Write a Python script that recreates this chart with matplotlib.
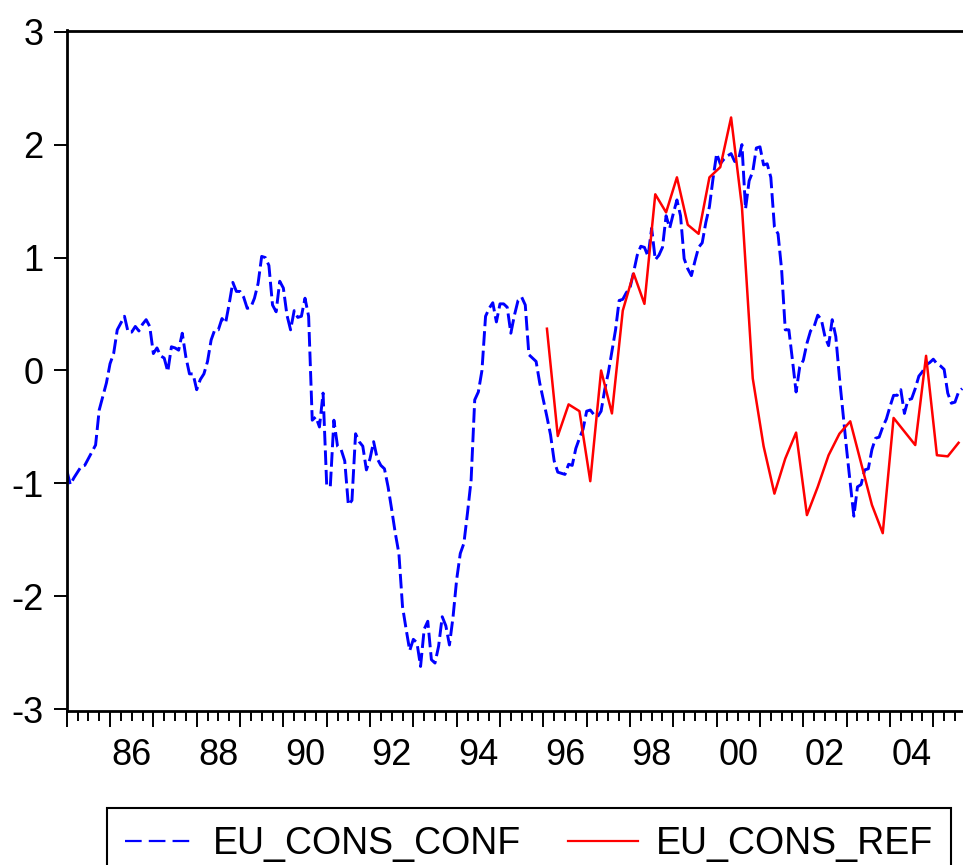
import numpy as np
import matplotlib
matplotlib.use("Agg")
import matplotlib.pyplot as plt
from matplotlib.ticker import FixedLocator
from matplotlib.lines import Line2D

plt.rcParams['font.family'] = ['Liberation Sans', 'DejaVu Sans']

# EU_CONS_CONF: monthly, Jan 1985 .. Sep 2005
conf_start = 1985.0
eu_cons_conf = [
    -0.88, -1.01, -0.95, -0.90, -0.85, -0.84, -0.78, -0.72, -0.66, -0.35, -0.23, -0.11,   # 1985
    0.06, 0.15, 0.36, 0.42, 0.48, 0.34, 0.34, 0.39, 0.35, 0.41, 0.45, 0.39,               # 1986
    0.15, 0.20, 0.13, 0.11, -0.01, 0.21, 0.20, 0.18, 0.33, 0.12, -0.03, -0.03,            # 1987
    -0.17, -0.08, -0.03, 0.08, 0.27, 0.36, 0.36, 0.46, 0.42, 0.59, 0.78, 0.70,            # 1988
    0.70, 0.65, 0.55, 0.56, 0.64, 0.77, 1.01, 1.00, 0.93, 0.58, 0.52, 0.79,               # 1989
    0.73, 0.49, 0.36, 0.53, 0.47, 0.48, 0.64, 0.48, -0.44, -0.41, -0.50, -0.20,           # 1990
    -1.01, -1.03, -0.44, -0.67, -0.70, -0.80, -1.19, -1.15, -0.56, -0.63, -0.67, -0.88,   # 1991
    -0.78, -0.63, -0.78, -0.84, -0.87, -1.03, -1.23, -1.44, -1.62, -2.09, -2.29, -2.48,   # 1992
    -2.38, -2.41, -2.62, -2.29, -2.22, -2.56, -2.59, -2.44, -2.18, -2.26, -2.43, -2.18,   # 1993
    -1.85, -1.62, -1.53, -1.26, -0.97, -0.26, -0.19, 0.00, 0.48, 0.55, 0.60, 0.43,        # 1994
    0.59, 0.59, 0.56, 0.33, 0.49, 0.62, 0.65, 0.58, 0.14, 0.11, 0.08, -0.11,              # 1995
    -0.26, -0.41, -0.57, -0.80, -0.90, -0.91, -0.92, -0.83, -0.84, -0.69, -0.60, -0.52,   # 1996
    -0.36, -0.35, -0.39, -0.41, -0.36, -0.17, -0.02, 0.17, 0.36, 0.62, 0.63, 0.69,        # 1997
    0.73, 0.87, 1.02, 1.10, 1.09, 1.01, 1.26, 0.98, 1.02, 1.09, 1.37, 1.26,               # 1998
    1.39, 1.51, 1.37, 0.99, 0.90, 0.84, 0.97, 1.09, 1.13, 1.31, 1.45, 1.70,               # 1999
    1.92, 1.83, 1.87, 1.90, 1.92, 1.85, 1.86, 2.00, 1.43, 1.68, 1.76, 1.97,               # 2000
    1.98, 1.82, 1.83, 1.71, 1.27, 1.21, 0.89, 0.36, 0.36, 0.09, -0.19, 0.03,              # 2001
    0.09, 0.24, 0.35, 0.39, 0.49, 0.45, 0.30, 0.22, 0.45, 0.30, -0.06, -0.38,             # 2002
    -0.70, -1.00, -1.29, -1.03, -1.01, -0.88, -0.87, -0.70, -0.60, -0.59, -0.50, -0.43,   # 2003
    -0.32, -0.22, -0.22, -0.17, -0.38, -0.26, -0.25, -0.16, -0.05, -0.01, 0.05, 0.07,     # 2004
    0.10, 0.06, 0.04, 0.01, -0.20, -0.29, -0.28, -0.19, -0.16,                            # 2005
]

# EU_CONS_REF: quarterly, plotted at mid-quarter, starting Feb 1996
ref_start = 1996 + 1 / 12
eu_cons_ref = [
    0.37, -0.58, -0.30, -0.36, -0.98, 0.00, -0.38, 0.53, 0.86, 0.59,
    1.56, 1.40, 1.71, 1.29, 1.21, 1.71, 1.80, 2.24, 1.45, -0.07,
    -0.67, -1.09, -0.78, -0.55, -1.28, -1.03, -0.75, -0.56, -0.45, -0.82,
    -1.19, -1.44, -0.42, -0.54, -0.66, 0.13, -0.75, -0.76, -0.64,
]

year_labels = ["86", "88", "90", "92", "94", "96", "98", "00", "02", "04"]
label_years = [1986, 1988, 1990, 1992, 1994, 1996, 1998, 2000, 2002, 2004]
y_ticks = [-3, -2, -1, 0, 1, 2, 3]

conf_x = conf_start + np.arange(len(eu_cons_conf)) / 12
ref_x = ref_start + np.arange(len(eu_cons_ref)) * 0.25

W, H = 963, 865
fig = plt.figure(figsize=(W / 100, H / 100), dpi=100)
left, right, top, bottom = 66.7, 963, 30.5, 710.5
ax = fig.add_axes([left / W, 1 - bottom / H, (right - left) / W, (bottom - top) / H])

ax.plot(conf_x, eu_cons_conf, color='#0000ff', lw=2.1, dashes=(5.0, 1.7))
ax.plot(ref_x, eu_cons_ref, color='#ff0000', lw=1.8)

years_span = (right - left) / 43.33
ax.set_xlim(1985.0, 1985.0 + years_span)
ax.set_ylim(-3.01, 3.01)

for s in ['left', 'top', 'bottom']:
    ax.spines[s].set_linewidth(2.0)
ax.spines['right'].set_visible(False)

ax.set_yticks(y_ticks)
ax.set_yticklabels([str(v) for v in y_ticks])
ax.tick_params(axis='y', direction='out', length=9.5, width=1.4, pad=7,
               labelsize=26)

ax.xaxis.set_major_locator(FixedLocator(np.arange(1985, 2006)))
ax.xaxis.set_minor_locator(FixedLocator(np.arange(1985, 2006, 0.25)))
ax.set_xticklabels([])
ax.tick_params(axis='x', which='major', direction='out', length=11.5, width=1.4)
ax.tick_params(axis='x', which='minor', direction='out', length=7, width=1.4)

trans = ax.get_xaxis_transform()
for yr, lab in zip(label_years, year_labels):
    ax.text(yr + 0.5, -0.04, lab, transform=trans, ha='center', va='top',
            fontsize=26)

handles = [
    Line2D([], [], color='#0000ff', lw=1.6, dashes=(7.5, 3.2)),
    Line2D([], [], color='#ff0000', lw=1.6),
]
leg = fig.legend(handles, ['EU_CONS_CONF', 'EU_CONS_REF'],
                 loc='upper left', bbox_to_anchor=(107 / W, 1 - 808 / H),
                 ncol=2, frameon=True, fancybox=False, edgecolor='black',
                 framealpha=1, borderaxespad=0, borderpad=0.48, fontsize=27,
                 handlelength=1.87, handletextpad=0.48, columnspacing=1.23)
leg.get_frame().set_linewidth(1.5)

fig.savefig('out.png', dpi=100)
